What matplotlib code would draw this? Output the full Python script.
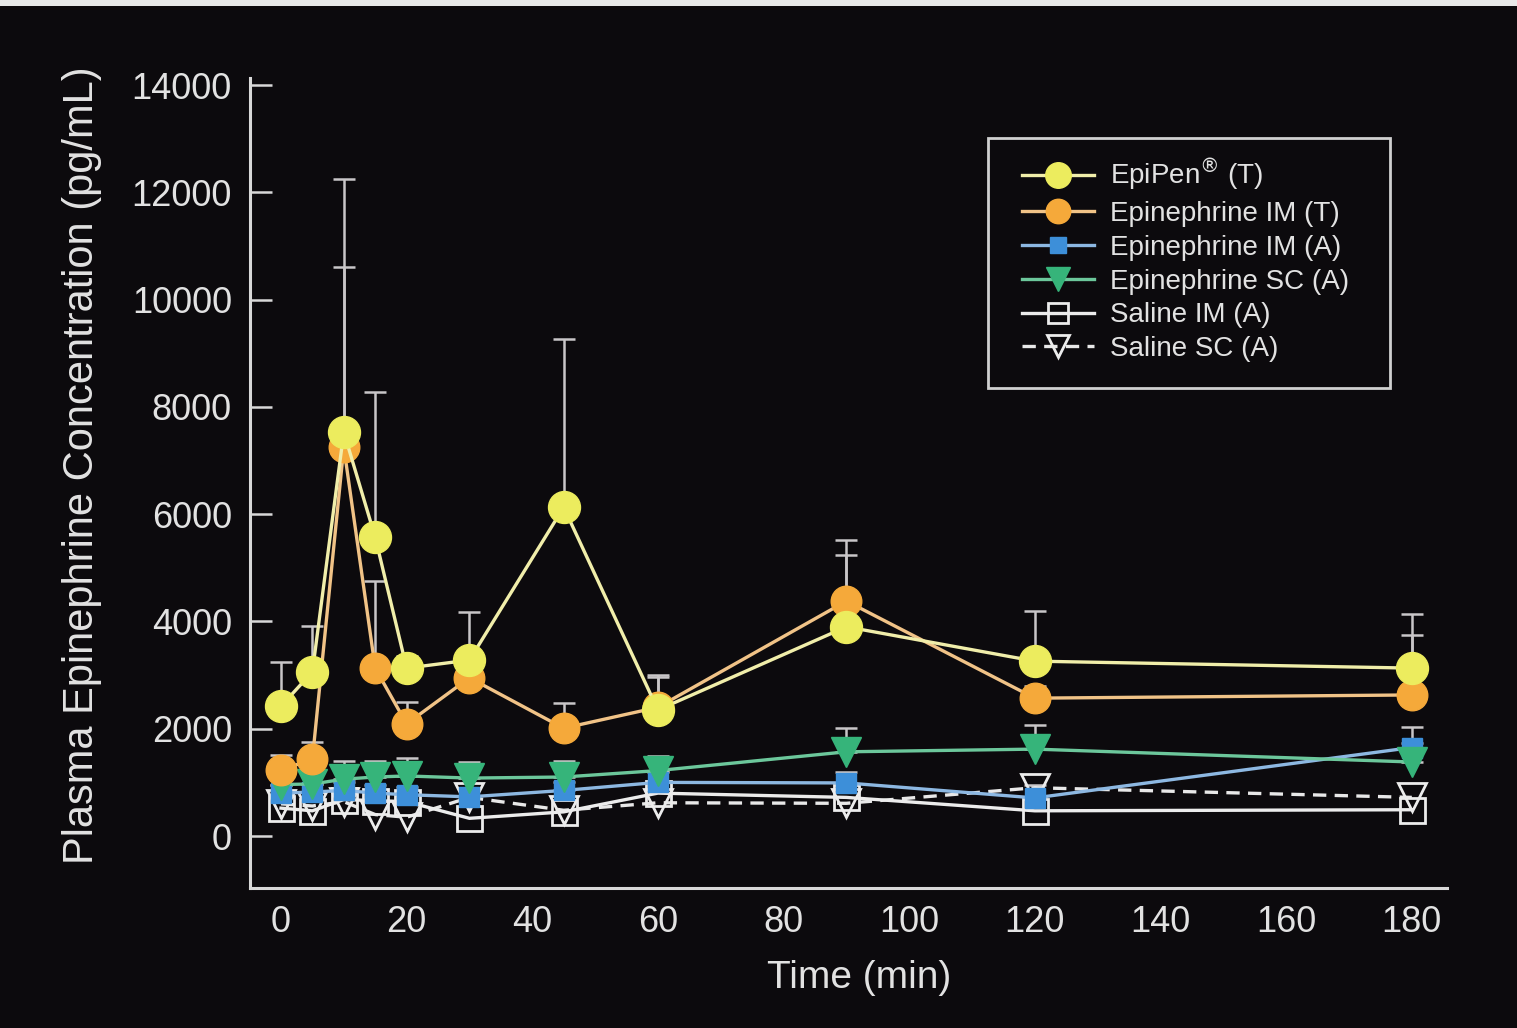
import matplotlib
matplotlib.use("Agg")
import matplotlib.pyplot as plt
from matplotlib.patches import Rectangle

# ---------------- data ----------------
time_min = [0, 5, 10, 15, 20, 30, 45, 60, 90, 120, 180]

epipen_t = [2420, 3060, 7530, 5570, 3130, 3280, 6130, 2350, 3900, 3260, 3130]
epipen_t_err = [820, 860, 4720, 2710, 220, 890, 3130, 610, 1340, 940, 1010]

epi_im_t = [1230, 1430, 7250, 3130, 2090, 2950, 2010, 2400, 4380, 2570, 2630]
epi_im_t_err = [280, 320, 3350, 1620, 410, 350, 470, 600, 1140, 230, 1120]

epi_im_a = [800, 820, 850, 800, 770, 730, 850, 1000, 990, 710, 1650]
epi_im_a_err = [150, 150, 150, 150, 150, 150, 150, 200, 200, 250, 380]

epi_sc_a = [960, 970, 1060, 1100, 1120, 1080, 1100, 1220, 1570, 1620, 1380]
epi_sc_a_err = [350, 400, 340, 300, 330, 300, 300, 270, 440, 450, 350]

saline_im_a = [520, 470, 680, 660, 640, 330, 450, 800, 720, 470, 490]
saline_sc_a = [600, 560, 640, 400, 350, 720, 480, 620, 610, 900, 720]

series_labels = ["EpiPen$^{\\circledR}$ (T)", "Epinephrine IM (T)",
                 "Epinephrine IM (A)", "Epinephrine SC (A)",
                 "Saline IM (A)", "Saline SC (A)"]

x_ticks = [0, 20, 40, 60, 80, 100, 120, 140, 160, 180]
x_tick_marks = [0, 20, 40, 60, 80, 100, 140, 160, 180]
y_ticks = [0, 2000, 4000, 6000, 8000, 10000, 12000, 14000]

x_label = "Time (min)"
y_label = "Plasma Epinephrine Concentration (pg/mL)"

# ---------------- style ----------------
plt.rcParams['font.family'] = ['Liberation Sans', 'DejaVu Sans']
plt.rcParams['mathtext.fontset'] = 'dejavusans'
BG = '#0c0a0d'
FG = '#e2e2e2'
W, H = 1517, 1028

fig = plt.figure(figsize=(W / 100, H / 100), dpi=100, facecolor=BG)
ax = fig.add_axes([250 / W, 1 - 888 / H, (1447 - 250) / W, (888 - 78) / H])
ax.set_facecolor(BG)
ax.set_xlim(-4.93, 185.6)
ax.set_ylim(-969, 14131)

for s in ['top', 'right']:
    ax.spines[s].set_visible(False)
for s in ['left', 'bottom']:
    ax.spines[s].set_color('#d8d8d8')
    ax.spines[s].set_linewidth(2.2)

ax.set_yticks(y_ticks)
ax.set_yticklabels([str(v) for v in y_ticks])
ax.set_xticks(x_ticks)
ax.set_xticklabels([str(v) for v in x_ticks])
ax.set_xticks(x_tick_marks, minor=True)
ax.tick_params(axis='y', direction='in', length=16, width=1.8, color='#d8d8d8',
               labelsize=26, labelcolor=FG, pad=13)
ax.tick_params(axis='x', which='major', direction='in', length=0,
               labelsize=26, labelcolor=FG, pad=12)
ax.tick_params(axis='x', which='minor', direction='in', length=13, width=1.8,
               color='#d8d8d8')

ERR_C = '#c9c6c8'


def errbars(y, e, z):
    ax.errorbar(time_min, y, yerr=[[0] * len(e), e], fmt='none', ecolor=ERR_C,
                elinewidth=1.8, capsize=8, capthick=1.8, zorder=z)


errbars(epi_im_a, epi_im_a_err, 1.1)
errbars(epi_sc_a, epi_sc_a_err, 1.2)
errbars(epi_im_t, epi_im_t_err, 1.3)
errbars(epipen_t, epipen_t_err, 1.4)

lw = 2.4
h6, = ax.plot(time_min, saline_sc_a, color='#e8e8e8', lw=lw, dashes=(4, 2.5),
              marker='v', ms=20, mfc='none', mec='#ececec', mew=2, zorder=2,
              label=series_labels[5])
h5, = ax.plot(time_min, saline_im_a, color='#ececec', lw=lw,
              marker='s', ms=18, mfc='none', mec='#ececec', mew=2, zorder=3,
              label=series_labels[4])
h3, = ax.plot(time_min, epi_im_a, color='#8db8e2', lw=lw,
              marker='s', ms=15, mfc='#3d8fd9', mec='#3d8fd9', zorder=4,
              label=series_labels[2])
h4, = ax.plot(time_min, epi_sc_a, color='#6cc79b', lw=lw,
              marker='v', ms=21, mfc='#36b47a', mec='#36b47a', zorder=5,
              label=series_labels[3])
h2, = ax.plot(time_min, epi_im_t, color='#f1c387', lw=lw,
              marker='o', ms=22, mfc='#f5a93a', mec='#f5a93a', zorder=6,
              label=series_labels[1])
h1, = ax.plot(time_min, epipen_t, color='#f1eeaa', lw=lw,
              marker='o', ms=23, mfc='#ecec5e', mec='#ecec5e', zorder=7,
              label=series_labels[0])

leg = fig.legend(handles=[h1, h2, h3, h4, h5, h6], loc='upper left',
                 bbox_to_anchor=(1022 / W, 1 - 157 / H), frameon=False,
                 fontsize=20, labelcolor=FG, handlelength=2.6,
                 handletextpad=0.55, borderpad=0, borderaxespad=0,
                 labelspacing=0.28, markerscale=0.8)
fig.add_artist(Rectangle((988 / W, 1 - 388 / H), (1390 - 988) / W, (388 - 138) / H,
                         transform=fig.transFigure, fill=False,
                         edgecolor='#d0d0d0', lw=2))

fig.text(859 / W, 1 - 978 / H, x_label, ha='center', va='center',
         fontsize=28, color=FG)
fig.text(82 / W, 1 - 465 / H, y_label, ha='center', va='center',
         rotation=90, fontsize=30, color=FG)

# scanned-page top edge
fig.add_artist(Rectangle((0, 1 - 6 / H), 1, 6 / H, transform=fig.transFigure,
                         facecolor='#e8e8e8', edgecolor='none'))

fig.savefig('out.png', dpi=100, facecolor=BG)
